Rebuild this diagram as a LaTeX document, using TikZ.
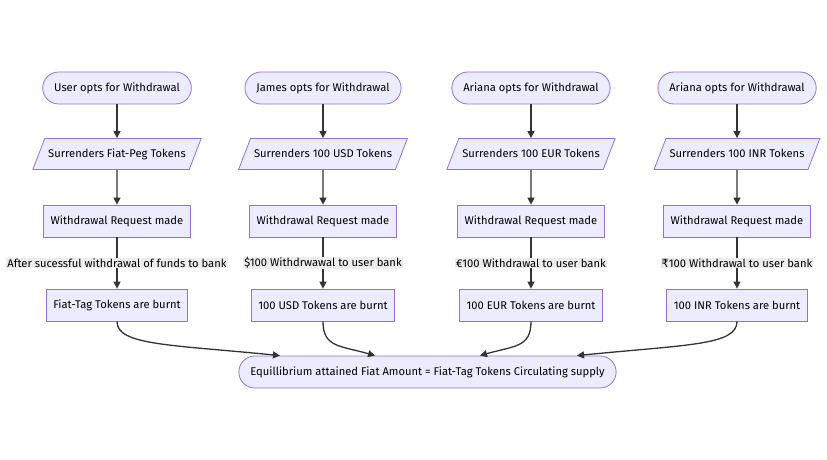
\documentclass[tikz,border=0pt]{standalone}
\usepackage{fontspec}
\setmainfont{Fira Sans}
\newfontfamily\rupeefont{DejaVu Sans}
\usepackage{tikz}
\usetikzlibrary{shapes.geometric, arrows.meta, calc}
\definecolor{nodefill}{HTML}{ECECFF}
\definecolor{nodeline}{HTML}{9370DB}
\definecolor{edgeline}{HTML}{333333}
\definecolor{labelfill}{HTML}{EDEDED}

\tikzset{
    startbox/.style={draw=nodeline, fill=nodefill, rounded corners=16pt, minimum height=32pt, inner xsep=11.5pt, line width=0.8pt},
    databox/.style={draw=nodeline, fill=nodefill, trapezium, trapezium left angle=69, trapezium right angle=111, text height=8.5pt, text depth=2.5pt, inner ysep=10pt, inner xsep=3.5pt, line width=0.8pt},
    stepbox/.style={draw=nodeline, fill=nodefill, minimum height=32pt, inner xsep=7pt, line width=0.8pt},
    edgelabel/.style={fill=labelfill, inner sep=1pt},
    flow/.style={draw=edgeline, line width=1.3pt, -{Triangle[length=7pt,width=7pt]}}
}

\begin{document}
\begin{tikzpicture}[x=1pt, y=1pt, font=\fontsize{11.2}{13}\selectfont]
\useasboundingbox (0,0) rectangle (827,-460);

% Who opts for withdrawal
\node[startbox] (u1) at (117,-88) {User opts for Withdrawal};
\node[startbox] (u2) at (323,-88) {James opts for Withdrawal};
\node[startbox] (u3) at (531,-88) {Ariana opts for Withdrawal};
\node[startbox] (u4) at (737,-88) {Ariana opts for Withdrawal};

% Tokens handed back
\node[databox] (s1) at (117,-154) {Surrenders Fiat-Peg Tokens};
\node[databox] (s2) at (323,-154) {Surrenders 100 USD Tokens};
\node[databox] (s3) at (531,-154) {Surrenders 100 EUR Tokens};
\node[databox] (s4) at (737,-154) {Surrenders 100 INR Tokens};

% Requests
\node[stepbox] (r1) at (117,-221) {Withdrawal Request made};
\node[stepbox] (r2) at (323,-221) {Withdrawal Request made};
\node[stepbox] (r3) at (531,-221) {Withdrawal Request made};
\node[stepbox] (r4) at (737,-221) {Withdrawal Request made};

% Burning
\node[stepbox] (b1) at (117,-305) {Fiat-Tag Tokens are burnt};
\node[stepbox] (b2) at (323,-305) {100 USD Tokens are burnt};
\node[stepbox] (b3) at (531,-305) {100 EUR Tokens are burnt};
\node[stepbox] (b4) at (737,-305) {100 INR Tokens are burnt};

% End state
\node[startbox] (eq) at (427.5,-372) {Equillibrium attained Fiat Amount = Fiat-Tag Tokens Circulating supply};

\foreach \i in {1,...,4} {
    \draw[flow] (u\i) -- (s\i);
    \draw[flow] (s\i) -- (r\i);
}

\draw[flow] (r1) -- node[edgelabel] {After sucessful withdrawal of funds to bank} (b1);
\draw[flow] (r2) -- node[edgelabel] {\$100 Withdrwawal to user bank} (b2);
\draw[flow] (r3) -- node[edgelabel] {€100 Withdrawal to user bank} (b3);
\draw[flow] (r4) -- node[edgelabel] {{\rupeefont ₹}100 Withdrawal to user bank} (b4);

% Merge into the end state
\coordinate (e1) at ($(eq.north)+(-147.5,0)$);
\coordinate (e2) at ($(eq.north)+(-52.5,0)$);
\coordinate (e3) at ($(eq.north)+(52.5,0)$);
\coordinate (e4) at ($(eq.north)+(149.5,0)$);
\draw[flow] (b1.south) .. controls +(0,-24) and +(-110,11) .. (e1);
\draw[flow] (b2.south) .. controls +(0,-26) and +(-35,10) .. (e2);
\draw[flow] (b3.south) .. controls +(0,-26) and +(35,10) .. (e3);
\draw[flow] (b4.south) .. controls +(0,-24) and +(110,11) .. (e4);
\end{tikzpicture}
\end{document}
